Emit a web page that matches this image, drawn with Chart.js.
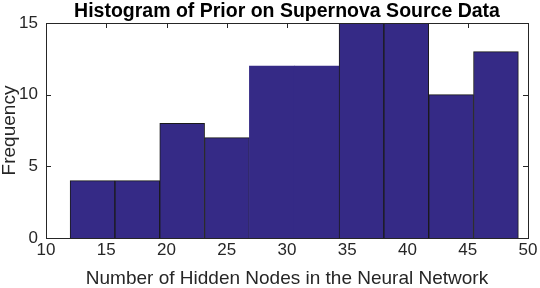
<!DOCTYPE html>
<html>
<head>
<meta charset="utf-8">
<script src="https://cdn.jsdelivr.net/npm/chart.js@4.4.1/dist/chart.umd.min.js"></script>
<style>
  html, body { margin: 0; padding: 0; background: #fff; }
  #wrap { width: 540px; height: 288px; }
</style>
</head>
<body>
<div id="wrap"><canvas id="histChart"></canvas></div>
<script>
"use strict";

// bin edges and counts
var binEdges = [12, 15.72, 19.44, 23.16, 26.88, 30.6, 34.32, 38.04, 41.76, 45.48, 49.2];
var binCounts = [4, 4, 8, 7, 12, 12, 15, 15, 10, 13];
var xTicks = [10, 15, 20, 25, 30, 35, 40, 45, 50];
var yTicks = [0, 5, 10, 15];

var barFill = '#352a86';
var edgeColor = '#1a1a1a';
var axisColor = '#262626';

var points = [];
for (var i = 0; i < binCounts.length; i++) {
    points.push({ x: (binEdges[i] + binEdges[i + 1]) / 2, y: binCounts[i] });
}

// the merged 12/12 block has no outline in the original
var borderWidths = binCounts.map(function (c, i) { return (i === 4 || i === 5) ? 0 : 1; });

var boxTicks = {
    id: 'boxTicks',
    beforeDatasetsDraw: function (chart) {
        var ctx = chart.ctx, a = chart.chartArea;
        var xs = chart.scales.x, ys = chart.scales.y;
        ctx.save();
        ctx.strokeStyle = axisColor;
        ctx.lineWidth = 1;
        ctx.beginPath();
        xTicks.forEach(function (v) {
            var px = Math.round(xs.getPixelForValue(v)) + 0.5;
            ctx.moveTo(px, a.bottom); ctx.lineTo(px, a.bottom - 5);
            ctx.moveTo(px, a.top); ctx.lineTo(px, a.top + 5);
        });
        yTicks.forEach(function (v) {
            var py = Math.round(ys.getPixelForValue(v)) + 0.5;
            ctx.moveTo(a.left, py); ctx.lineTo(a.left + 5, py);
            ctx.moveTo(a.right, py); ctx.lineTo(a.right - 5, py);
        });
        ctx.stroke();
        ctx.restore();
    },
    afterDatasetsDraw: function (chart) {
        var ctx = chart.ctx, a = chart.chartArea;
        ctx.save();
        ctx.strokeStyle = axisColor;
        ctx.lineWidth = 1;
        ctx.strokeRect(Math.round(a.left) + 0.5, Math.round(a.top) + 0.5,
            Math.round(a.right - a.left), Math.round(a.bottom - a.top));
        ctx.restore();
    }
};

const context = document.getElementById('histChart');
const myChart = new Chart(context, {
    type: 'bar',
    data: {
        datasets: [{
            label: 'Frequency',
            data: points,
            backgroundColor: barFill,
            borderColor: edgeColor,
            borderWidth: borderWidths,
            borderSkipped: 'bottom',
            barPercentage: 1,
            categoryPercentage: 1
        }]
    },
    options: {
        responsive: true,
        maintainAspectRatio: false,
        animation: false,
        layout: { padding: { left: 0, right: 12, top: 0, bottom: 0 } },
        plugins: {
            legend: { display: false },
            tooltip: { enabled: false },
            title: {
                display: true,
                fullSize: false,
                text: 'Histogram of Prior on Supernova Source Data',
                color: '#000',
                font: { family: 'Liberation Sans', size: 19.5, weight: 'bold', lineHeight: 1.18 },
                padding: { top: 0, bottom: 0 }
            }
        },
        scales: {
            x: {
                type: 'linear',
                min: 10,
                max: 50,
                offset: false,
                grid: { display: false, drawTicks: false },
                border: { display: false },
                afterBuildTicks: function (scale) {
                    scale.ticks = xTicks.map(function (v) { return { value: v }; });
                },
                afterFit: function (scale) {
                    scale.height = 50;
                    scale.paddingLeft = 0;
                    scale.paddingRight = 0;
                },
                ticks: {
                    color: axisColor,
                    padding: 2,
                    maxRotation: 0,
                    autoSkip: false,
                    font: { family: 'Liberation Sans', size: 17 }
                },
                title: {
                    display: true,
                    text: 'Number of Hidden Nodes in the Neural Network',
                    color: axisColor,
                    font: { family: 'Liberation Sans', size: 19, lineHeight: 1 },
                    padding: { top: 0, bottom: 0 }
                }
            },
            y: {
                min: 0,
                max: 15,
                grid: { display: false, drawTicks: false },
                border: { display: false },
                afterBuildTicks: function (scale) {
                    scale.ticks = yTicks.map(function (v) { return { value: v }; });
                },
                afterFit: function (scale) {
                    scale.width = 46;
                    scale.paddingTop = 0;
                    scale.paddingBottom = 0;
                },
                ticks: {
                    color: axisColor,
                    padding: 8,
                    autoSkip: false,
                    font: { family: 'Liberation Sans', size: 17 }
                },
                title: {
                    display: true,
                    text: 'Frequency',
                    color: axisColor,
                    font: { family: 'Liberation Sans', size: 19, lineHeight: 1 },
                    padding: { top: 0, bottom: 0 }
                }
            }
        }
    },
    plugins: [boxTicks]
});
</script>
</body>
</html>
